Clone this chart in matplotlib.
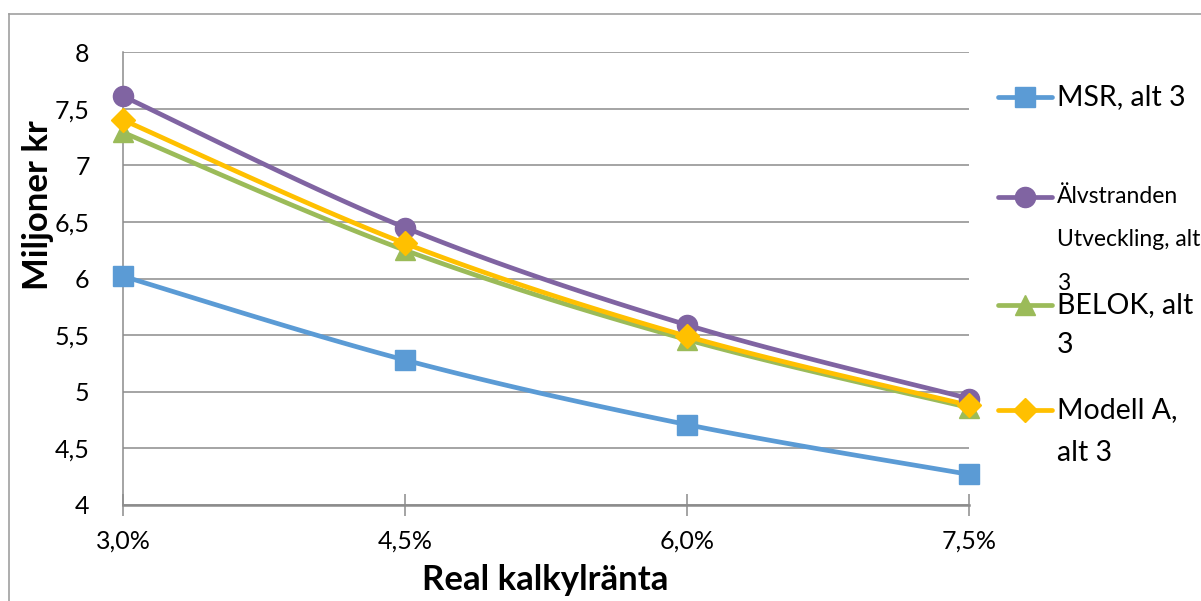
import numpy as np
import matplotlib
matplotlib.use("Agg")
import matplotlib.pyplot as plt
from matplotlib.lines import Line2D

# ---- data ----
rates = ["3,0%", "4,5%", "6,0%", "7,5%"]
series_names = ["MSR, alt 3", "Älvstranden Utveckling, alt 3", "BELOK, alt 3", "Modell A, alt 3"]
msr = [6.02, 5.28, 4.71, 4.27]
alvstranden = [7.61, 6.45, 5.59, 4.94]
belok = [7.29, 6.25, 5.46, 4.86]
modell_a = [7.40, 6.31, 5.49, 4.88]
y_ticks = [4, 4.5, 5, 5.5, 6, 6.5, 7, 7.5, 8]

legend_labels = ["MSR, alt 3", "Älvstranden\nUtveckling, alt\n3", "BELOK, alt\n3", "Modell A,\nalt 3"]

colors = ["#5B9BD5", "#8064A2", "#9BBB59", "#FFC000"]
markers = ["s", "o", "^", "D"]
msizes = [14, 14.5, 14.5, 12.5]

plt.rcParams["font.family"] = ["Lato", "DejaVu Sans"]

W, H = 1201, 601
fig = plt.figure(figsize=(W / 100, H / 100), dpi=100)
fig.patch.set_facecolor("white")

# plot area in pixels
L, R, T, B = 123, 969, 52, 505
ax = fig.add_axes([L / W, 1 - B / H, (R - L) / W, (B - T) / H])


def smooth(xs, ys, n=40):
    """Smoothed line: cubic Bezier segments with Catmull-Rom control points."""
    p = np.column_stack([xs, ys]).astype(float)
    ext = np.vstack([p[0], p, p[-1]])
    out = []
    t = np.linspace(0, 1, n)[:, None]
    for i in range(len(p) - 1):
        p0, p1 = ext[i + 1], ext[i + 2]
        c1 = p0 + (ext[i + 2] - ext[i]) / 6.0
        c2 = p1 - (ext[i + 3] - ext[i + 1]) / 6.0
        seg = ((1 - t) ** 3) * p0 + 3 * ((1 - t) ** 2) * t * c1 + 3 * (1 - t) * t ** 2 * c2 + t ** 3 * p1
        out.append(seg if i == 0 else seg[1:])
    s = np.vstack(out)
    return s[:, 0], s[:, 1]


LW = 3.4
x = np.arange(len(rates))
all_series = [msr, alvstranden, belok, modell_a]
for vals, c, m, ms in zip(all_series, colors, markers, msizes):
    sx, sy = smooth(x, vals)
    ax.plot(sx, sy, color=c, lw=LW, solid_capstyle="round", zorder=3)
    ax.plot(x, vals, linestyle="none", marker=m, markersize=ms, color=c,
            markeredgecolor=c, zorder=4, clip_on=False)

ax.set_xlim(0, len(rates) - 1)
ax.set_ylim(4, 8)
ax.set_yticks(y_ticks)
ax.set_yticklabels([f"{v:g}".replace(".", ",") for v in y_ticks], fontsize=18)
ax.set_xticks(x)
ax.set_xticklabels(rates, fontsize=18)

grid_c = "#8C8C8C"
ax.grid(axis="y", color=grid_c, lw=1.1, zorder=1)
ax.set_axisbelow(True)
for side in ["top", "right"]:
    ax.spines[side].set_visible(False)
ax.spines["left"].set_color(grid_c)
ax.spines["left"].set_linewidth(1.1)
ax.spines["bottom"].set_color(grid_c)
ax.spines["bottom"].set_linewidth(1.8)
ax.tick_params(axis="y", length=0, pad=24)
ax.tick_params(axis="x", direction="inout", length=16, width=1.1, color=grid_c, pad=10)

ax.set_xlabel("Real kalkylränta", fontsize=25, fontweight="bold")
ax.set_ylabel("Miljoner kr", fontsize=25, fontweight="bold")
ax.xaxis.set_label_coords((545 - L) / (R - L), -(580 - B) / (B - T))
ax.yaxis.set_label_coords(-(L - 38) / (R - L), (B - 205) / (B - T))
ax.yaxis.label.set_va("center")
ax.xaxis.label.set_va("center")

# outer chart border (left and top edges)
fig.add_artist(Line2D([9 / W, 9 / W], [0, 1 - 14 / H], color="#A0A0A0", lw=1.2))
fig.add_artist(Line2D([9 / W, 1], [1 - 14 / H, 1 - 14 / H], color="#A0A0A0", lw=1.2))

# legend drawn to the right of the plot area
entry_y = [97, 197, 305, 410]
line_gaps = [43, 43, 40, 43]
for lab, c, m, ms, yy, gap in zip(legend_labels, colors, markers, msizes, entry_y, line_gaps):
    fy = 1 - yy / H
    fig.add_artist(Line2D([998 / W, 1052 / W], [fy, fy], color=c, lw=LW, solid_capstyle="round"))
    fig.add_artist(Line2D([1025 / W], [fy], marker=m, markersize=ms, color=c, markeredgecolor=c))
    fs = 16.5 if "Utveckling" in lab else 20.5
    for k, line in enumerate(lab.split("\n")):
        fig.text(1057 / W, 1 - (yy + k * gap) / H, line, fontsize=fs, va="center", ha="left")

fig.savefig("out.png", dpi=100, facecolor="white")
